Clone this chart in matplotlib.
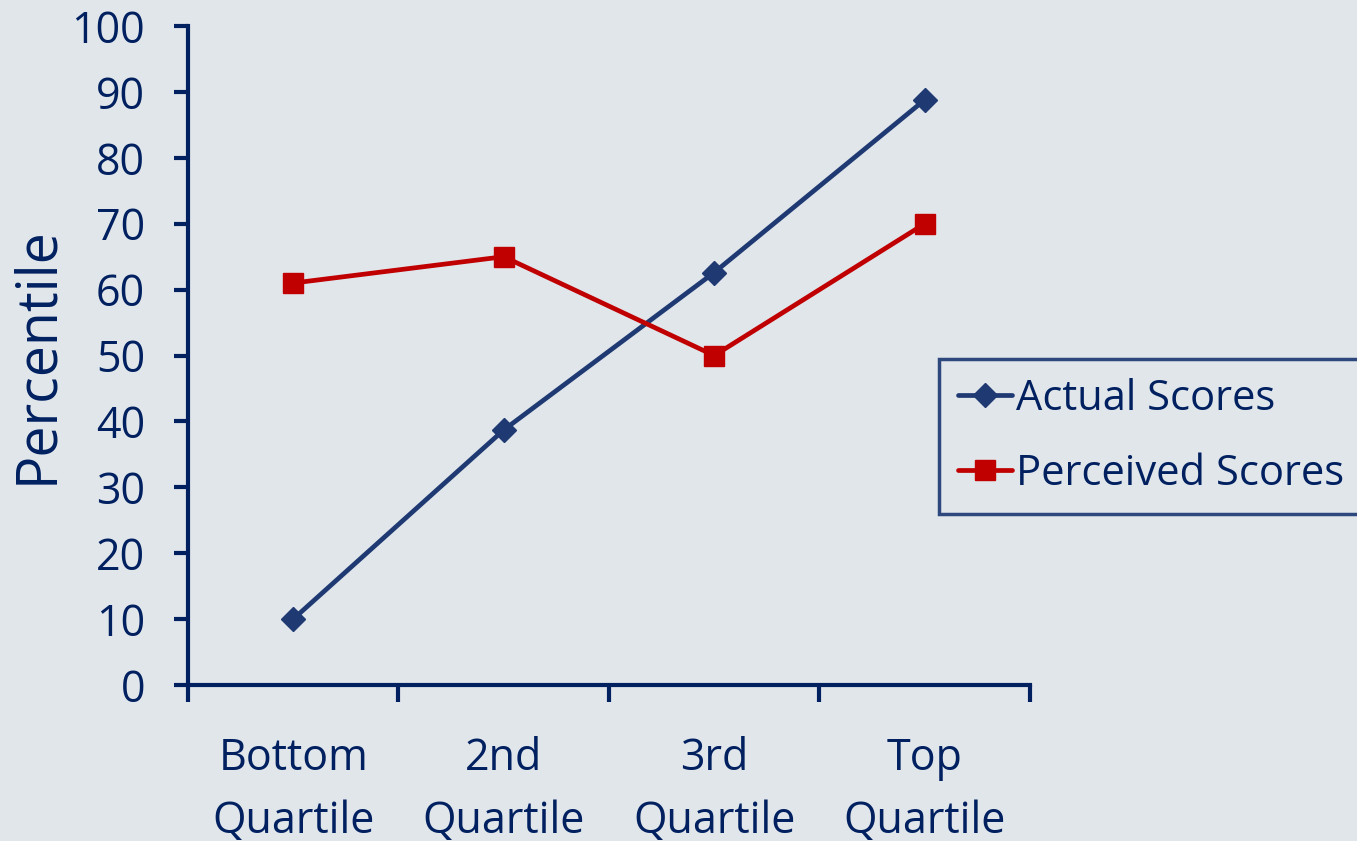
import matplotlib
matplotlib.use("Agg")
import matplotlib.pyplot as plt
from matplotlib.ticker import FixedLocator

categories = ["Bottom\nQuartile", "2nd\nQuartile", "3rd\nQuartile", "Top\nQuartile"]
actual_scores = [10, 38.7, 62.6, 88.8]
perceived_scores = [61, 65, 50, 70]
y_ticks = [0, 10, 20, 30, 40, 50, 60, 70, 80, 90, 100]

BG = "#E1E6EB"
NAVY = "#002060"
BLUE = "#1F3A73"
RED = "#C00000"

plt.rcParams["font.family"] = ["Open Sans", "DejaVu Sans"]

fig = plt.figure(figsize=(13.57, 8.41), dpi=100, facecolor=BG)
ax = fig.add_axes([0.1385, 0.1855, 0.6205, 0.7835], facecolor=BG)

x = list(range(len(categories)))
ax.plot(x, actual_scores, color=BLUE, lw=3.4, marker="D", ms=12,
        mfc=BLUE, mec=BLUE, label="Actual Scores", solid_capstyle="round")
ax.plot(x, perceived_scores, color=RED, lw=3.4, marker="s", ms=14,
        mfc=RED, mec=RED, mew=1, label="Perceived Scores", solid_capstyle="round")

ax.set_xlim(-0.5, len(categories) - 0.5)
ax.set_ylim(0, 100)
ax.set_yticks(y_ticks)
ax.set_xticks(x)
ax.set_xticklabels(categories, linespacing=1.55, va="top")
ax.xaxis.set_minor_locator(FixedLocator([i - 0.5 for i in range(len(categories) + 1)]))

for side in ("top", "right"):
    ax.spines[side].set_visible(False)
for side in ("left", "bottom"):
    ax.spines[side].set_color(NAVY)
    ax.spines[side].set_linewidth(3)
    ax.spines[side].set_capstyle("projecting")

ax.tick_params(axis="y", which="major", length=10, width=3, color=NAVY,
               labelcolor=NAVY, labelsize=31, pad=21)
ax.tick_params(axis="x", which="major", length=0, labelcolor=NAVY,
               labelsize=31, pad=37)
ax.tick_params(axis="x", which="minor", length=12, width=3, color=NAVY)

ax.set_ylabel("Percentile", color=NAVY, fontsize=40, labelpad=4)

leg = ax.legend(loc="upper left", bbox_to_anchor=(0.892, 0.495),
                fontsize=30, frameon=True, fancybox=False, handlelength=1.3,
                handletextpad=0.1, borderpad=0.45, labelspacing=0.8,
                borderaxespad=0, labelcolor=NAVY)
leg.get_frame().set_edgecolor(NAVY)
leg.get_frame().set_linewidth(2.5)
leg.get_frame().set_facecolor(BG)
leg.set_clip_on(False)

fig.savefig("out.png", dpi=100, facecolor=BG)
